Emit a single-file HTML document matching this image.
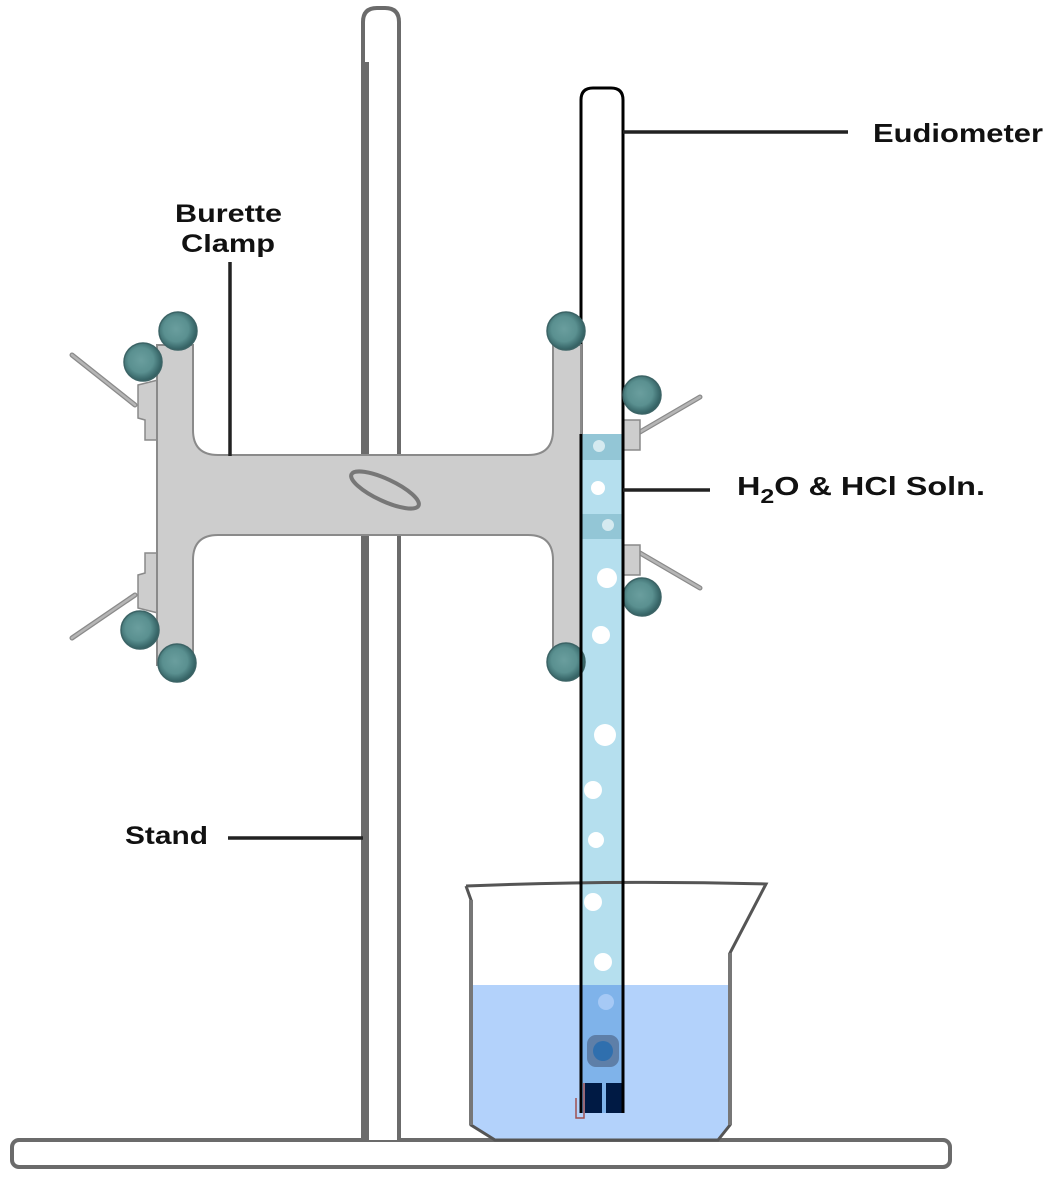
<!DOCTYPE html>
<html><head><style>html,body{margin:0;padding:0;background:#fff}svg{display:block}</style></head>
<body>
<svg width="1057" height="1183" viewBox="0 0 1057 1183" xmlns="http://www.w3.org/2000/svg" font-family="Liberation Sans, sans-serif" font-weight="bold">
<defs>
<radialGradient id="kn" cx="0.45" cy="0.45" r="0.6">
<stop offset="0" stop-color="#6a9e9e"/><stop offset="0.55" stop-color="#5a9090"/><stop offset="0.8" stop-color="#3e6e70"/><stop offset="1" stop-color="#2c5557"/>
</radialGradient>
</defs>
<!-- base -->
<rect x="12" y="1140" width="938" height="27" rx="7" fill="#fff" stroke="#6b6b6b" stroke-width="4"/>
<!-- stand -->
<path d="M363 1140 V22 Q363 8 377 8 H385 Q399 8 399 22 V1140" fill="#fff" stroke="#6b6b6b" stroke-width="4"/>
<rect x="362" y="62" width="7" height="1078" fill="#6b6b6b"/>
<!-- levers -->
<g stroke="#8a8a8a" stroke-width="5" stroke-linecap="round">
<line x1="72" y1="355" x2="135" y2="405"/>
<line x1="72" y1="638" x2="135" y2="595"/>
<line x1="700" y1="397" x2="640" y2="432"/>
<line x1="700" y1="588" x2="640" y2="553"/>
</g>
<g stroke="#b5b5b5" stroke-width="2.5" stroke-linecap="round">
<line x1="72" y1="355" x2="135" y2="405"/>
<line x1="72" y1="638" x2="135" y2="595"/>
<line x1="700" y1="397" x2="640" y2="432"/>
<line x1="700" y1="588" x2="640" y2="553"/>
</g>
<!-- tabs -->
<path d="M138 385 V418 L145 420 V440 L158 440 V380 Z" fill="#cdcdcd" stroke="#8a8a8a" stroke-width="1.5"/>
<path d="M138 608 V575 L145 573 V553 L158 553 V613 Z" fill="#cdcdcd" stroke="#8a8a8a" stroke-width="1.5"/>
<path d="M623 420 L640 420 L640 450 L623 450 Z" fill="#cdcdcd" stroke="#8a8a8a" stroke-width="1.5"/>
<path d="M623 545 L640 545 L640 575 L623 575 Z" fill="#cdcdcd" stroke="#8a8a8a" stroke-width="1.5"/>
<!-- eudiometer -->
<path d="M581 1112 V100 Q581 88 593 88 H611 Q623 88 623 100 V1112" fill="#fff" stroke="#000" stroke-width="3"/>
<rect x="582.5" y="434" width="39" height="678" fill="#b5dfee"/>
<rect x="582.5" y="434" width="39" height="26" fill="#93c6d6"/>
<rect x="582.5" y="514" width="39" height="25" fill="#93c6d6"/>
<!-- clamp -->
<path d="M157 345 H193 V430 Q193 455 218 455 H528 Q553 455 553 430 V345 H581 V665 H553 V560 Q553 535 528 535 H218 Q193 535 193 560 V665 H157 Z" fill="#cdcdcd" stroke="#8a8a8a" stroke-width="2"/>
<ellipse cx="385" cy="490" rx="37" ry="11" transform="rotate(25 385 490)" fill="none" stroke="#777" stroke-width="4"/>
<!-- bubbles -->
<g fill="#fff">
<circle cx="599" cy="446" r="6" fill="#d5eaf0"/>
<circle cx="598" cy="488" r="7"/>
<circle cx="608" cy="525" r="6" fill="#d5eaf0"/>
<circle cx="607" cy="578" r="10"/>
<circle cx="601" cy="635" r="9"/>
<circle cx="605" cy="735" r="11"/>
<circle cx="593" cy="790" r="9"/>
<circle cx="596" cy="840" r="8"/>
<circle cx="593" cy="902" r="9"/>
<circle cx="603" cy="962" r="9"/>
</g>
<!-- knobs -->
<g fill="url(#kn)" stroke="#3c6466" stroke-width="1.5">
<circle cx="178" cy="331" r="19"/>
<circle cx="143" cy="362" r="19"/>
<circle cx="140" cy="630" r="19"/>
<circle cx="177" cy="663" r="19"/>
<circle cx="566" cy="331" r="19"/>
<circle cx="566" cy="662" r="19"/>
<circle cx="642" cy="395" r="19"/>
<circle cx="642" cy="597" r="19"/>
</g>
<!-- beaker water -->
<path d="M471 985 H731 V1125 L718 1140 H495 L471 1125 Z" fill="#b3d2fb"/>
<rect x="582.5" y="985" width="39" height="128" fill="#7fb3ea"/>
<circle cx="606" cy="1002" r="8" fill="#a6c9f5"/>
<rect x="587" y="1035" width="32" height="32" rx="9" fill="#5e7fa8"/>
<circle cx="603" cy="1051" r="10" fill="#2f6fae"/>
<rect x="585" y="1083" width="17" height="30" fill="#001a44"/>
<rect x="606" y="1083" width="16" height="30" fill="#001a44"/>
<path d="M576 1098 V1118 H584 V1083" fill="none" stroke="#a05050" stroke-width="1.5"/>
<!-- beaker outline -->
<path d="M466 886 Q615 880 766 884 L730 953 V1125 L718 1140 H495 L471 1125 V900 L466 886" fill="none" stroke="#555" stroke-width="3"/>
<line x1="471" y1="900" x2="471" y2="1125" stroke="#777" stroke-width="4"/>
<line x1="730" y1="953" x2="730" y2="1125" stroke="#777" stroke-width="4"/>
<!-- eudiometer walls over -->
<line x1="581" y1="434" x2="581" y2="1113" stroke="#000" stroke-width="3"/>
<line x1="623" y1="434" x2="623" y2="1113" stroke="#000" stroke-width="3"/>
<!-- label lines -->
<g stroke="#222" stroke-width="3.5">
<line x1="623" y1="132" x2="848" y2="132"/>
<line x1="230" y1="262" x2="230" y2="456"/>
<line x1="623" y1="490" x2="710" y2="490"/>
<line x1="228" y1="838" x2="363" y2="838"/>
</g>
<!-- labels -->
<g fill="#111">
<text x="873" y="142" font-size="26" textLength="170" lengthAdjust="spacingAndGlyphs">Eudiometer</text>
<text x="175" y="222" font-size="25" textLength="107" lengthAdjust="spacingAndGlyphs">Burette</text>
<text x="181" y="252" font-size="25" textLength="94" lengthAdjust="spacingAndGlyphs">Clamp</text>
<text x="737" y="495" font-size="26" textLength="248" lengthAdjust="spacingAndGlyphs">H<tspan dy="8" font-size="20">2</tspan><tspan dy="-8">O &amp;  HCl Soln.</tspan></text>
<text x="125" y="844" font-size="25" textLength="83" lengthAdjust="spacingAndGlyphs">Stand</text>
</g>
</svg>
</body></html>
